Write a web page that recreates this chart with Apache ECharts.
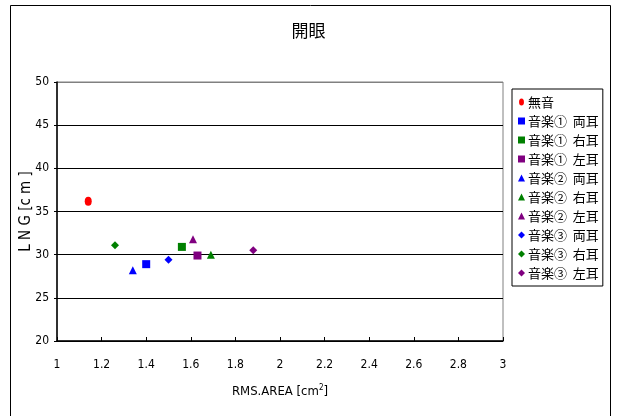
<!DOCTYPE html>
<html>
<head>
<meta charset="utf-8">
<script src="https://cdn.jsdelivr.net/npm/echarts@6/dist/echarts.min.js"></script>
<style>
  html, body { margin: 0; padding: 0; background: #fff; }
  #chart { width: 617px; height: 416px; }
</style>
</head>
<body>
<div id="chart"></div>
<script>
const seriesNames = ['無音', '音楽①  両耳', '音楽①  右耳', '音楽①  左耳', '音楽②  両耳', '音楽②  右耳', '音楽②  左耳', '音楽③  両耳', '音楽③  右耳', '音楽③  左耳'];
const rmsArea = [1.14, 1.40, 1.56, 1.63, 1.34, 1.69, 1.61, 1.50, 1.26, 1.88];
const lng = [36.2, 28.9, 30.9, 29.9, 28.2, 30.0, 31.8, 29.4, 31.1, 30.5];
const symbols = ['ellipse', 'rect', 'rect', 'rect', 'triangle', 'triangle', 'triangle', 'diamond', 'diamond', 'diamond'];
const colors = ['#ff0000', '#0000ff', '#008000', '#800080', '#0000ff', '#008000', '#800080', '#0000ff', '#008000', '#800080'];
const xTicks = [1, 3, 0.2];
const yTicks = [20, 50, 5];

const numFont = '"DejaVu Sans Condensed", "Liberation Sans Narrow", "Liberation Sans", sans-serif';
const jpFont = '"Noto Sans CJK JP", sans-serif';
const ellipsePath = 'path://M0,-10A7,10 0 1,1 0,10A7,10 0 1,1 0,-10Z';

const chart = echarts.init(document.getElementById('chart'));

const series = seriesNames.map((name, i) => ({
    name: name,
    type: 'scatter',
    symbol: symbols[i] === 'ellipse' ? ellipsePath : symbols[i],
    symbolSize: symbols[i] === 'ellipse' ? [7, 9] : 8,
    itemStyle: { color: colors[i], opacity: 1 },
    data: [[rmsArea[i], lng[i]]]
}));

chart.setOption({
    animation: false,
    backgroundColor: '#fff',
    graphic: [{
        type: 'rect',
        shape: { x: 10.5, y: 5.5, width: 600, height: 420 },
        style: { fill: 'none', stroke: '#000', lineWidth: 1 },
        silent: true
    }],
    title: {
        text: '開眼',
        left: 'center',
        top: 17,
        textStyle: { fontFamily: jpFont, fontSize: 17, fontWeight: 'normal', color: '#000' }
    },
    grid: {
        left: 57, top: 82, right: 114, bottom: 75,
        show: true, borderColor: '#808080', borderWidth: 1, backgroundColor: '#fff'
    },
    legend: {
        orient: 'vertical',
        left: 512, top: 89,
        width: 88,
        padding: [6, 4, 6, 6],
        borderColor: '#000',
        borderWidth: 1,
        itemWidth: 7,
        itemHeight: 7,
        itemGap: 5,
        textStyle: { fontFamily: jpFont, fontSize: 13, lineHeight: 14, color: '#000', padding: [0, 0, 0, -2] },
        data: seriesNames
    },
    xAxis: {
        type: 'value',
        min: xTicks[0], max: xTicks[1], interval: xTicks[2],
        name: 'RMS.AREA [{s|cm}{sup|2}{s|]}',
        nameLocation: 'middle',
        nameGap: 43,
        nameTextStyle: {
            fontFamily: numFont, fontSize: 13, color: '#000',
            rich: {
                s: { fontFamily: numFont, fontSize: 13 },
                sup: { fontFamily: numFont, fontSize: 8, verticalAlign: 'top', padding: [0, 0, 8, 0] }
            }
        },
        axisLine: { lineStyle: { color: '#000', width: 1.5 } },
        axisTick: { inside: true, length: 4, lineStyle: { color: '#000' } },
        axisLabel: { margin: 18, fontFamily: numFont, fontSize: 12, color: '#000' },
        splitLine: { show: false }
    },
    yAxis: {
        type: 'value',
        min: yTicks[0], max: yTicks[1], interval: yTicks[2],
        name: 'L N G [c m ]',
        nameLocation: 'middle',
        nameGap: 23,
        nameMoveOverlap: false,
        nameTextStyle: { fontFamily: numFont, fontSize: 15, color: '#000' },
        axisLine: { lineStyle: { color: '#000', width: 1.5 } },
        axisTick: { length: 3, lineStyle: { color: '#000' } },
        axisLabel: { margin: 8, fontFamily: numFont, fontSize: 12, color: '#000' },
        splitLine: { show: true, lineStyle: { color: ['#000', '#000', '#000', '#000', '#000', '#000', '#808080'], width: 1 } }
    },
    series: series
});
</script>
</body>
</html>
